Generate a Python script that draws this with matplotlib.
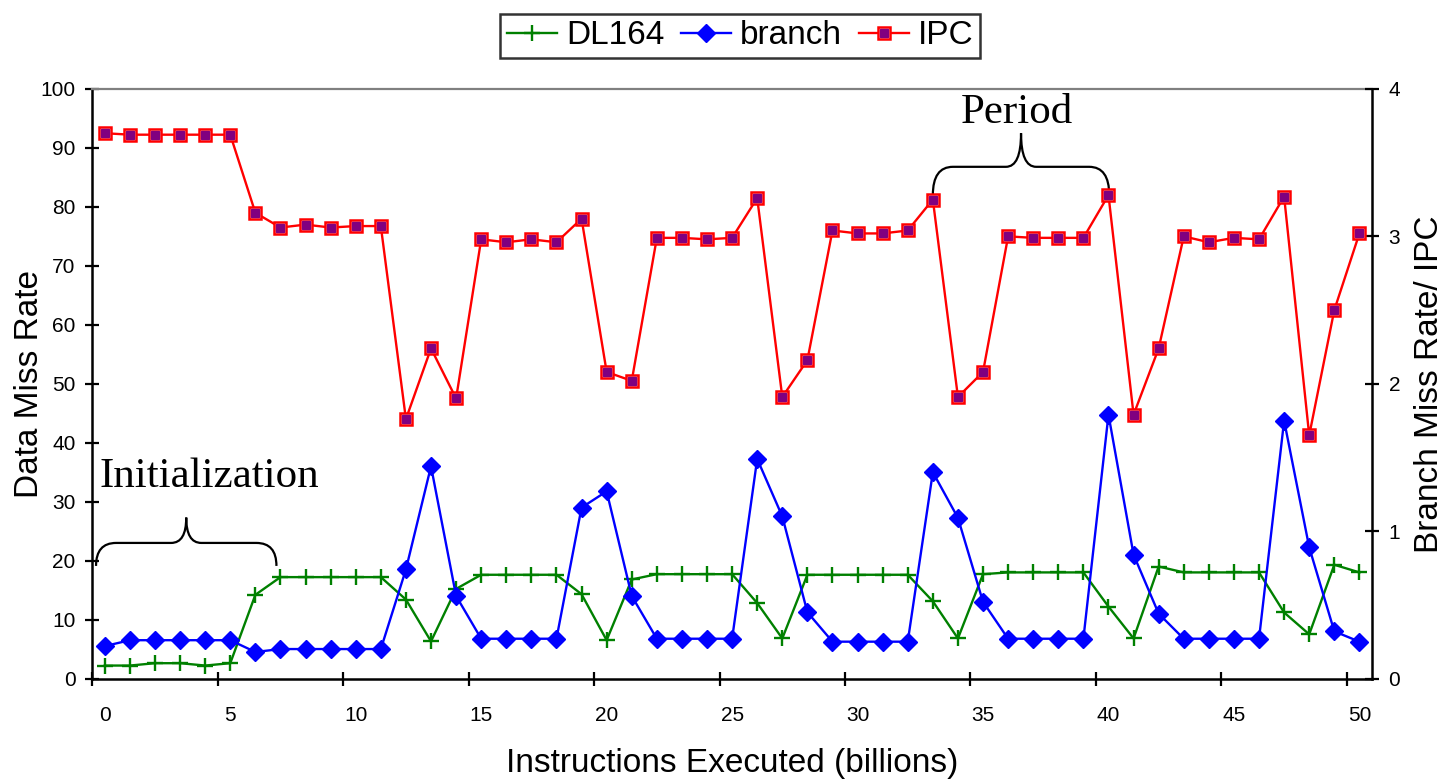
import matplotlib
matplotlib.use("Agg")
import matplotlib.pyplot as plt
from matplotlib.path import Path
from matplotlib.patches import PathPatch
from matplotlib.legend_handler import HandlerTuple

# categories: instructions executed (billions), one sample per billion
instructions = list(range(51))

dl164 = [2.2, 2.2, 2.6, 2.6, 2.2, 2.6, 14.2, 17.2, 17.2, 17.2,
         17.2, 17.2, 13.4, 6.3, 15.2, 17.6, 17.6, 17.6, 17.6, 14.3,
         6.5, 16.8, 17.7, 17.7, 17.7, 17.7, 12.8, 6.8, 17.6, 17.6,
         17.6, 17.6, 17.6, 13.1, 6.8, 17.7, 18.0, 18.0, 18.0, 18.0,
         12.2, 6.8, 19.0, 18.0, 18.0, 18.0, 18.0, 11.2, 7.5, 19.3,
         18.0]

branch = [0.22, 0.26, 0.26, 0.26, 0.26, 0.26, 0.18, 0.20, 0.20, 0.20,
          0.20, 0.20, 0.74, 1.44, 0.56, 0.27, 0.27, 0.27, 0.27, 1.16,
          1.27, 0.56, 0.27, 0.27, 0.27, 0.27, 1.49, 1.10, 0.45, 0.25,
          0.25, 0.25, 0.25, 1.40, 1.09, 0.52, 0.27, 0.27, 0.27, 0.27,
          1.79, 0.84, 0.44, 0.27, 0.27, 0.27, 0.27, 1.75, 0.89, 0.32,
          0.25]

ipc = [3.70, 3.69, 3.69, 3.69, 3.69, 3.69, 3.16, 3.06, 3.08, 3.06,
       3.07, 3.07, 1.76, 2.24, 1.90, 2.98, 2.96, 2.98, 2.96, 3.12,
       2.08, 2.02, 2.99, 2.99, 2.98, 2.99, 3.26, 1.91, 2.16, 3.04,
       3.02, 3.02, 3.04, 3.25, 1.91, 2.08, 3.00, 2.99, 2.99, 2.99,
       3.28, 1.79, 2.24, 3.00, 2.96, 2.99, 2.98, 3.27, 1.65, 2.50,
       3.02]

x_labels = [0, 5, 10, 15, 20, 25, 30, 35, 40, 45, 50]

SANS = ["Liberation Sans", "DejaVu Sans"]
SERIF = ["Liberation Serif", "DejaVu Serif"]
plt.rcParams["font.family"] = SANS


def draw_brace(ax, x0, x1, y_end, y_mid, y_tip, rx=0.8, rtip=0.6):
    """Curly brace opening downward, ends at y_end, tip at y_tip."""
    xc = (x0 + x1) / 2
    verts = [
        (x0, y_end), (x0, y_mid), (x0 + rx, y_mid),
        (xc - rtip, y_mid),
        (xc, y_mid), (xc, y_tip),
        (xc, y_mid), (xc + rtip, y_mid),
        (x1 - rx, y_mid),
        (x1, y_mid), (x1, y_end),
    ]
    codes = [Path.MOVETO, Path.CURVE3, Path.CURVE3,
             Path.LINETO,
             Path.CURVE3, Path.CURVE3,
             Path.CURVE3, Path.CURVE3,
             Path.LINETO,
             Path.CURVE3, Path.CURVE3]
    ax.add_patch(PathPatch(Path(verts, codes), fill=False, lw=1.6,
                           edgecolor="black", zorder=6, clip_on=False))


def main():
    fig = plt.figure(figsize=(14.44, 7.8), dpi=100)
    ax = fig.add_axes([0.0639, 0.1301, 0.8862, 0.7558])
    ax2 = ax.twinx()

    xs = [i + 0.5 for i in instructions]

    h1, = ax.plot(xs, dl164, color="#008000", lw=1.7, marker="+",
                  ms=11, mew=1.7, label="DL164")
    h2, = ax2.plot(xs, branch, color="#0000FF", lw=1.7, marker="D",
                   ms=9, label="branch")
    h3, = ax2.plot(xs, ipc, color="#FF0000", lw=1.7, marker="s", ms=9,
                   mfc="white", mec="#FF0000", mew=1.8)
    h3b, = ax2.plot(xs, ipc, ls="none", marker="s", ms=5.2, color="#800080")

    ax.set_xlim(0, 51)
    ax.set_ylim(0, 100)
    ax2.set_ylim(0, 4)

    ax.set_yticks(range(0, 101, 10))
    ax2.set_yticks([0, 1, 2, 3, 4])
    ax.set_xticks(x_labels)
    ax.set_xticklabels([])
    ax.set_xticks([v + 0.5 for v in x_labels], minor=True)
    ax.set_xticklabels([str(v) for v in x_labels], minor=True)

    ax.tick_params(axis="x", which="major", direction="inout", length=10,
                   width=1.6)
    ax.tick_params(axis="x", which="minor", length=0, pad=20, labelsize=15)
    ax.tick_params(axis="y", direction="inout", length=10, width=1.6,
                   labelsize=15, pad=7)
    ax2.tick_params(axis="y", direction="inout", length=10, width=1.6,
                    labelsize=15, pad=7)

    for s in ("left", "bottom"):
        ax.spines[s].set_linewidth(1.8)
    ax.spines["top"].set_color("#808080")
    ax.spines["top"].set_linewidth(1.6)
    ax.spines["right"].set_visible(False)
    for s in ("top", "left", "bottom"):
        ax2.spines[s].set_visible(False)
    ax2.spines["right"].set_linewidth(1.8)

    ax.set_xlabel("Instructions Executed (billions)", fontsize=24, labelpad=16)
    ax.set_ylabel("Data Miss Rate", fontsize=24, labelpad=-3)
    ax2.set_ylabel("Branch Miss Rate/ IPC", fontsize=24, labelpad=10)

    # annotations
    ax.text(0.3, 32.5, "Initialization", family=SERIF, fontsize=31,
            ha="left", va="baseline")
    draw_brace(ax, 0.15, 7.34, 19.1, 23.0, 27.3)
    ax.text(36.85, 94.3, "Period", family=SERIF, fontsize=31,
            ha="center", va="baseline")
    draw_brace(ax, 33.5, 40.53, 82.0, 86.8, 92.5)

    leg = fig.legend([h1, h2, (h3, h3b)], ["DL164", "branch", "IPC"],
                     handler_map={tuple: HandlerTuple(ndivide=1)},
                     loc="center", bbox_to_anchor=(0.5125, 0.954), ncol=3,
                     fontsize=24, frameon=True, fancybox=False,
                     handlelength=1.5, handletextpad=0.27, columnspacing=0.5,
                     borderpad=0.2, borderaxespad=0.0, numpoints=1)
    leg.get_frame().set_edgecolor("black")
    leg.get_frame().set_linewidth(1.8)

    fig.savefig("out.png", dpi=100)


if __name__ == "__main__":
    main()
